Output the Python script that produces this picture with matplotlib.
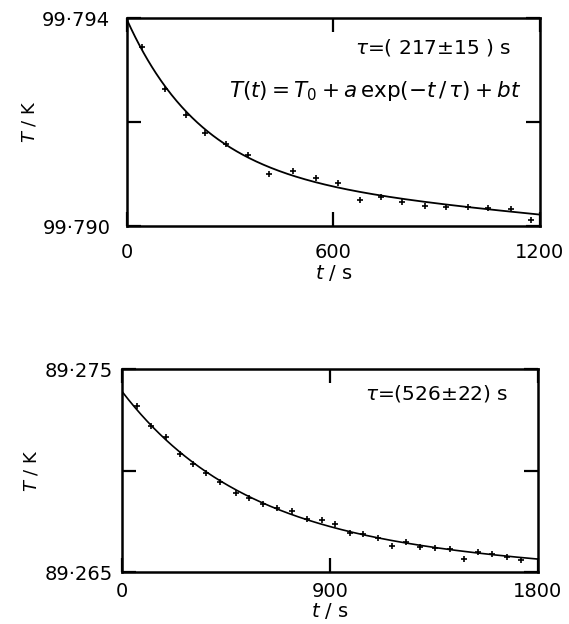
import numpy as np
import matplotlib
matplotlib.use('Agg')
import matplotlib.pyplot as plt

# top panel: measured points (t in s, T in K)
t_top = [45, 110, 171, 227, 289, 351, 414, 482, 549, 614, 677, 739, 800, 865, 928, 990, 1050, 1115, 1173]
T_top = [99.79345, 99.79263, 99.79214, 99.79180, 99.79158, 99.79137, 99.79100, 99.79106, 99.79092,
         99.79082, 99.79051, 99.79056, 99.79046, 99.79039, 99.79037, 99.79037, 99.79035, 99.79033, 99.79012]
# fit T(t) = T0 + a exp(-t/tau) + b t
fit_top = dict(T0=99.79093, a=0.00304, tau=217.0, b=-6.02e-7)

# bottom panel
t_bot = [62, 123, 188, 250, 307, 362, 423, 491, 550, 610, 671, 733, 798, 863, 920, 985, 1043, 1108,
         1166, 1228, 1288, 1353, 1418, 1479, 1540, 1603, 1666, 1728]
T_bot = [89.27320, 89.27220, 89.27165, 89.27081, 89.27033, 89.26990, 89.26944, 89.26891, 89.26867,
         89.26834, 89.26817, 89.26799, 89.26760, 89.26755, 89.26737, 89.26691, 89.26688, 89.26669,
         89.26628, 89.26648, 89.26625, 89.26617, 89.26612, 89.26564, 89.26597, 89.26589, 89.26576, 89.26559]
fit_bot = dict(T0=89.26637, a=0.00752, tau=526.0, b=-5.43e-7)

def model(t, p):
    return p['T0'] + p['a'] * np.exp(-t / p['tau']) + p['b'] * t

plt.rcParams['font.family'] = ['DejaVu Sans']
plt.rcParams['mathtext.fontset'] = 'dejavusans'

fig = plt.figure(figsize=(5.69, 6.24), dpi=100)
ax1 = fig.add_axes([0.2232, 0.6378, 0.7258, 0.3329])
ax2 = fig.add_axes([0.2149, 0.0833, 0.7306, 0.3249])

def style(ax, xmax, xt, xlabels, ylo, yhi, yt, ylabels, pad):
    ax.set_xlim(0, xmax)
    ax.set_ylim(ylo, yhi)
    for s in ax.spines.values():
        s.set_linewidth(1.8)
    ax.set_xticks(xt)
    ax.set_xticklabels(xlabels, fontsize=14)
    ax.set_yticks(yt)
    ax.set_yticklabels(ylabels, fontsize=14)
    ax.tick_params(direction='in', length=10, width=1.6, top=True, right=True, pad=pad)
    ax.set_ylabel(r'$T$ / K', fontsize=13, labelpad=3)

# top
tt = np.linspace(0, 1200, 400)
ax1.plot(tt, model(tt, fit_top), color='black', lw=1.3)
ax1.plot(t_top, T_top, '+', color='black', ms=5, mew=1.2)
style(ax1, 1200, [0, 600, 1200], ['0', '600', '1200'], 99.790, 99.794,
      [99.790, 99.792, 99.794], ['99\u00b7790', '', '99\u00b7794'], 12)
ax1.set_xlabel(r'$t$ / s', fontsize=14, labelpad=1)
ax1.text(0.93, 0.86, r'$\tau$=( 217$\pm$15 ) s', transform=ax1.transAxes,
         ha='right', va='center', fontsize=14.5)
ax1.text(0.955, 0.65, r'$T(t)=T_0+a\,\mathrm{exp}(-t\,/\,\tau)+bt$', transform=ax1.transAxes,
         ha='right', va='center', fontsize=15.5)

# bottom
tb = np.linspace(0, 1800, 400)
ax2.plot(tb, model(tb, fit_bot), color='black', lw=1.2)
ax2.plot(t_bot, T_bot, '+', color='black', ms=5, mew=1.2)
style(ax2, 1800, [0, 900, 1800], ['0', '900', '1800'], 89.265, 89.275,
      [89.265, 89.270, 89.275], ['89\u00b7265', '', '89\u00b7275'], 7)
ax2.set_xlabel(r'$t$ / s', fontsize=14, labelpad=0)
ax2.text(0.93, 0.88, r'$\tau$=(526$\pm$22) s', transform=ax2.transAxes,
         ha='right', va='center', fontsize=14.5)

fig.savefig('out.png', dpi=100)
